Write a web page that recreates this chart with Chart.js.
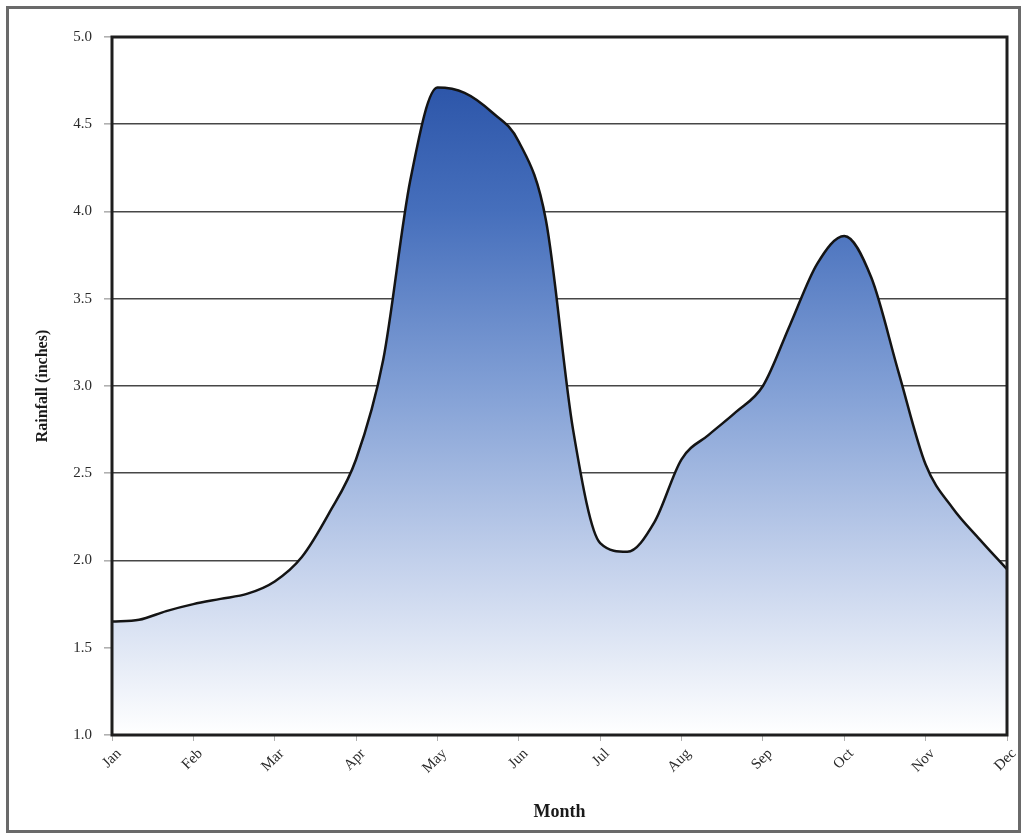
<!DOCTYPE html>
<html>
<head>
<meta charset="utf-8">
<title>Monthly Rainfall</title>
<script src="https://cdn.jsdelivr.net/npm/chart.js@4.4.1/dist/chart.umd.min.js"></script>
<style>
  html, body { margin: 0; padding: 0; background: #ffffff; }
  #wrap { position: relative; width: 1027px; height: 835px; }
  #frame {
    position: absolute; left: 6px; top: 6px; width: 1015px; height: 827px;
    border: 3px solid #6a6a6a; pointer-events: none; box-sizing: border-box;
  }
  canvas { display: block; }
</style>
</head>
<body>
<div id="wrap">
  <canvas id="chart" width="1027" height="835"></canvas>
  <div id="frame"></div>
</div>
<script>
// Month names shown on the x axis
const monthLabels = ['Jan', 'Feb', 'Mar', 'Apr', 'May', 'Jun', 'Jul', 'Aug', 'Sep', 'Oct', 'Nov', 'Dec'];

// Rainfall readings, three per month (start, ~10th, ~20th), Jan 1 through Dec 1
const rainfall = [
  1.65, 1.66, 1.71,   // Jan
  1.75, 1.78, 1.81,   // Feb
  1.88, 2.02, 2.27,   // Mar
  2.58, 3.15, 4.18,   // Apr
  4.71, 4.68, 4.57,   // May
  4.40, 3.95, 2.75,   // Jun
  2.10, 2.05, 2.22,   // Jul
  2.58, 2.72, 2.85,   // Aug
  3.00, 3.35, 3.70,   // Sep
  3.86, 3.62, 3.08,   // Oct
  2.55, 2.30, 2.12,   // Nov
  1.95                // Dec
];

// Y axis tick values (inches)
const yTicks = [1.0, 1.5, 2.0, 2.5, 3.0, 3.5, 4.0, 4.5, 5.0];

const readingsPerMonth = 3;
const points = rainfall.map((v, i) => ({ x: i / readingsPerMonth, y: v }));

const serif = '"Liberation Serif", "DejaVu Serif", serif';

// Outline the whole plotting area with a heavy border
const plotFrame = {
  id: 'plotFrame',
  afterDraw(chart) {
    const { ctx, chartArea: a } = chart;
    ctx.save();
    ctx.strokeStyle = '#1e1e1e';
    ctx.lineWidth = 3;
    ctx.strokeRect(a.left, a.top, a.right - a.left, a.bottom - a.top);
    ctx.restore();
  }
};

function areaGradient(context) {
  const { ctx, chartArea } = context.chart;
  if (!chartArea) return 'rgba(60,100,180,0.6)';
  const g = ctx.createLinearGradient(0, chartArea.top, 0, chartArea.bottom);
  g.addColorStop(0.0, '#234ca2');
  g.addColorStop(0.25, '#466fbc');
  g.addColorStop(0.5, '#819fd5');
  g.addColorStop(0.75, '#c2d0eb');
  g.addColorStop(1.0, '#ffffff');
  return g;
}

new Chart(document.getElementById('chart'), {
  type: 'line',
  data: {
    datasets: [{
      label: 'Rainfall',
      data: points,
      borderColor: '#141414',
      borderWidth: 2.5,
      backgroundColor: areaGradient,
      fill: 'start',
      pointRadius: 0,
      cubicInterpolationMode: 'monotone'
    }]
  },
  options: {
    responsive: false,
    animation: false,
    devicePixelRatio: 1,
    layout: { padding: { left: 33, right: 20, top: 37, bottom: 12 } },
    plugins: {
      legend: { display: false },
      tooltip: { enabled: false }
    },
    scales: {
      x: {
        type: 'linear',
        min: 0,
        max: monthLabels.length - 1,
        afterFit(scale) { scale.height = 88; },
        grid: {
          drawOnChartArea: false,
          drawTicks: true,
          tickLength: 6,
          tickColor: '#b0b0b0'
        },
        border: { display: false },
        ticks: {
          stepSize: 1,
          autoSkip: false,
          minRotation: 45,
          maxRotation: 45,
          padding: 4,
          labelOffset: 7,
          color: '#2a2a2a',
          font: { family: serif, size: 15 },
          callback: (v) => monthLabels[v] ?? ''
        },
        title: {
          display: true,
          text: 'Month',
          color: '#1a1a1a',
          font: { family: serif, size: 18, weight: 'bold' },
          padding: { top: 4, bottom: 0 }
        }
      },
      y: {
        min: yTicks[0],
        max: yTicks[yTicks.length - 1],
        afterFit(scale) { scale.width = 79; },
        afterBuildTicks(scale) { scale.ticks = yTicks.map(v => ({ value: v })); },
        grid: {
          color: '#474747',
          lineWidth: 1.6,
          tickLength: 8,
          tickColor: '#b0b0b0'
        },
        border: { display: false },
        ticks: {
          padding: 12,
          color: '#2a2a2a',
          font: { family: serif, size: 15 },
          callback: (v) => Number(v).toFixed(1)
        },
        title: {
          display: true,
          text: 'Rainfall (inches)',
          color: '#1a1a1a',
          font: { family: serif, size: 16, weight: 'bold' },
          padding: { top: 0, bottom: 4 }
        }
      }
    }
  },
  plugins: [plotFrame]
});
</script>
</body>
</html>
